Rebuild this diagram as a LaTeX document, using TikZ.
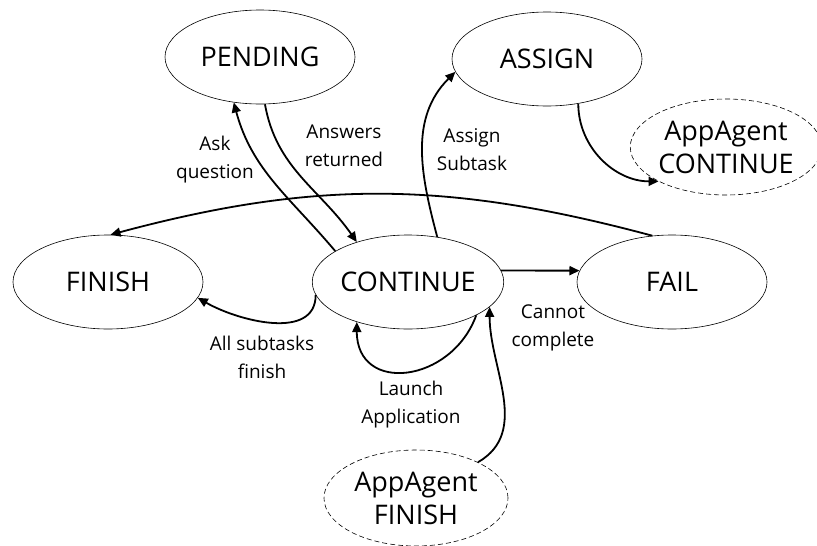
\documentclass[tikz,border=0pt]{standalone}
\usepackage{fontspec}
\setmainfont{Open Sans}
\usetikzlibrary{arrows.meta}
\usetikzlibrary{shapes.geometric}

\tikzset{
  state/.style = {ellipse, draw, line width=0.6pt, minimum width=190pt, minimum height=94pt, inner sep=0pt, font=\fontsize{27}{33}\selectfont},
  agent/.style = {state, dash pattern=on 5pt off 3pt, align=center, minimum width=184pt, minimum height=96pt},
  trans/.style = {-{Triangle[length=10pt,width=9pt]}, line width=1.8pt},
  tlabel/.style = {align=center, font=\fontsize{19}{28}\selectfont}
}

\begin{document}
\begin{tikzpicture}[x=1pt,y=-1pt]
  \useasboundingbox (0,0) rectangle (817,546);

  % states
  \node[state] (pend) at (260,57) {PENDING};
  \node[state] (asgn) at (547,59) {ASSIGN};
  \node[state] (fini) at (108,282) {FINISH};
  \node[state] (cont) at (408,282) {CONTINUE};
  \node[state] (fail) at (672,282) {FAIL};
  \node[agent] (appc) at (726,147) {AppAgent\\CONTINUE};
  \node[agent] (appf) at (416,498) {AppAgent\\FINISH};

  % transitions
  \draw[trans] (cont.157) to[out=130,in=-75] (pend.240);
  \draw[trans] (pend.-84) to[out=-80,in=125] (cont.142);
  \draw[trans] (cont.57) to[out=105,in=225] (asgn.188);
  \draw[trans] (asgn.-55) to[out=-90,in=180] (appc.207);
  \draw[trans] (fail.113) to[out=165,in=15] (fini.87);
  \draw[trans] (cont.7) -- (fail.173);
  \draw[trans] (cont.188) to[out=-90,in=-30] (fini.-10);
  \draw[trans] (cont.-26) to[out=-110,in=-90,looseness=1.55] (cont.218);
  \draw[trans] (appf.30) to[out=30,in=-90] (cont.-17);

  % labels
  \node[tlabel] (askq) at (215,160) {Ask\\question};
  \node[tlabel] (answ) at (344,146) {Answers\\returned};
  \node[tlabel] (asst) at (472,150) {Assign\\Subtask};
  \node[tlabel] (cann) at (553,328) {Cannot\\complete};
  \node[tlabel] (allf) at (262,357) {All subtasks\\finish};
  \node[tlabel] (lnch) at (411,405) {Launch\\Application};
\end{tikzpicture}
\end{document}
